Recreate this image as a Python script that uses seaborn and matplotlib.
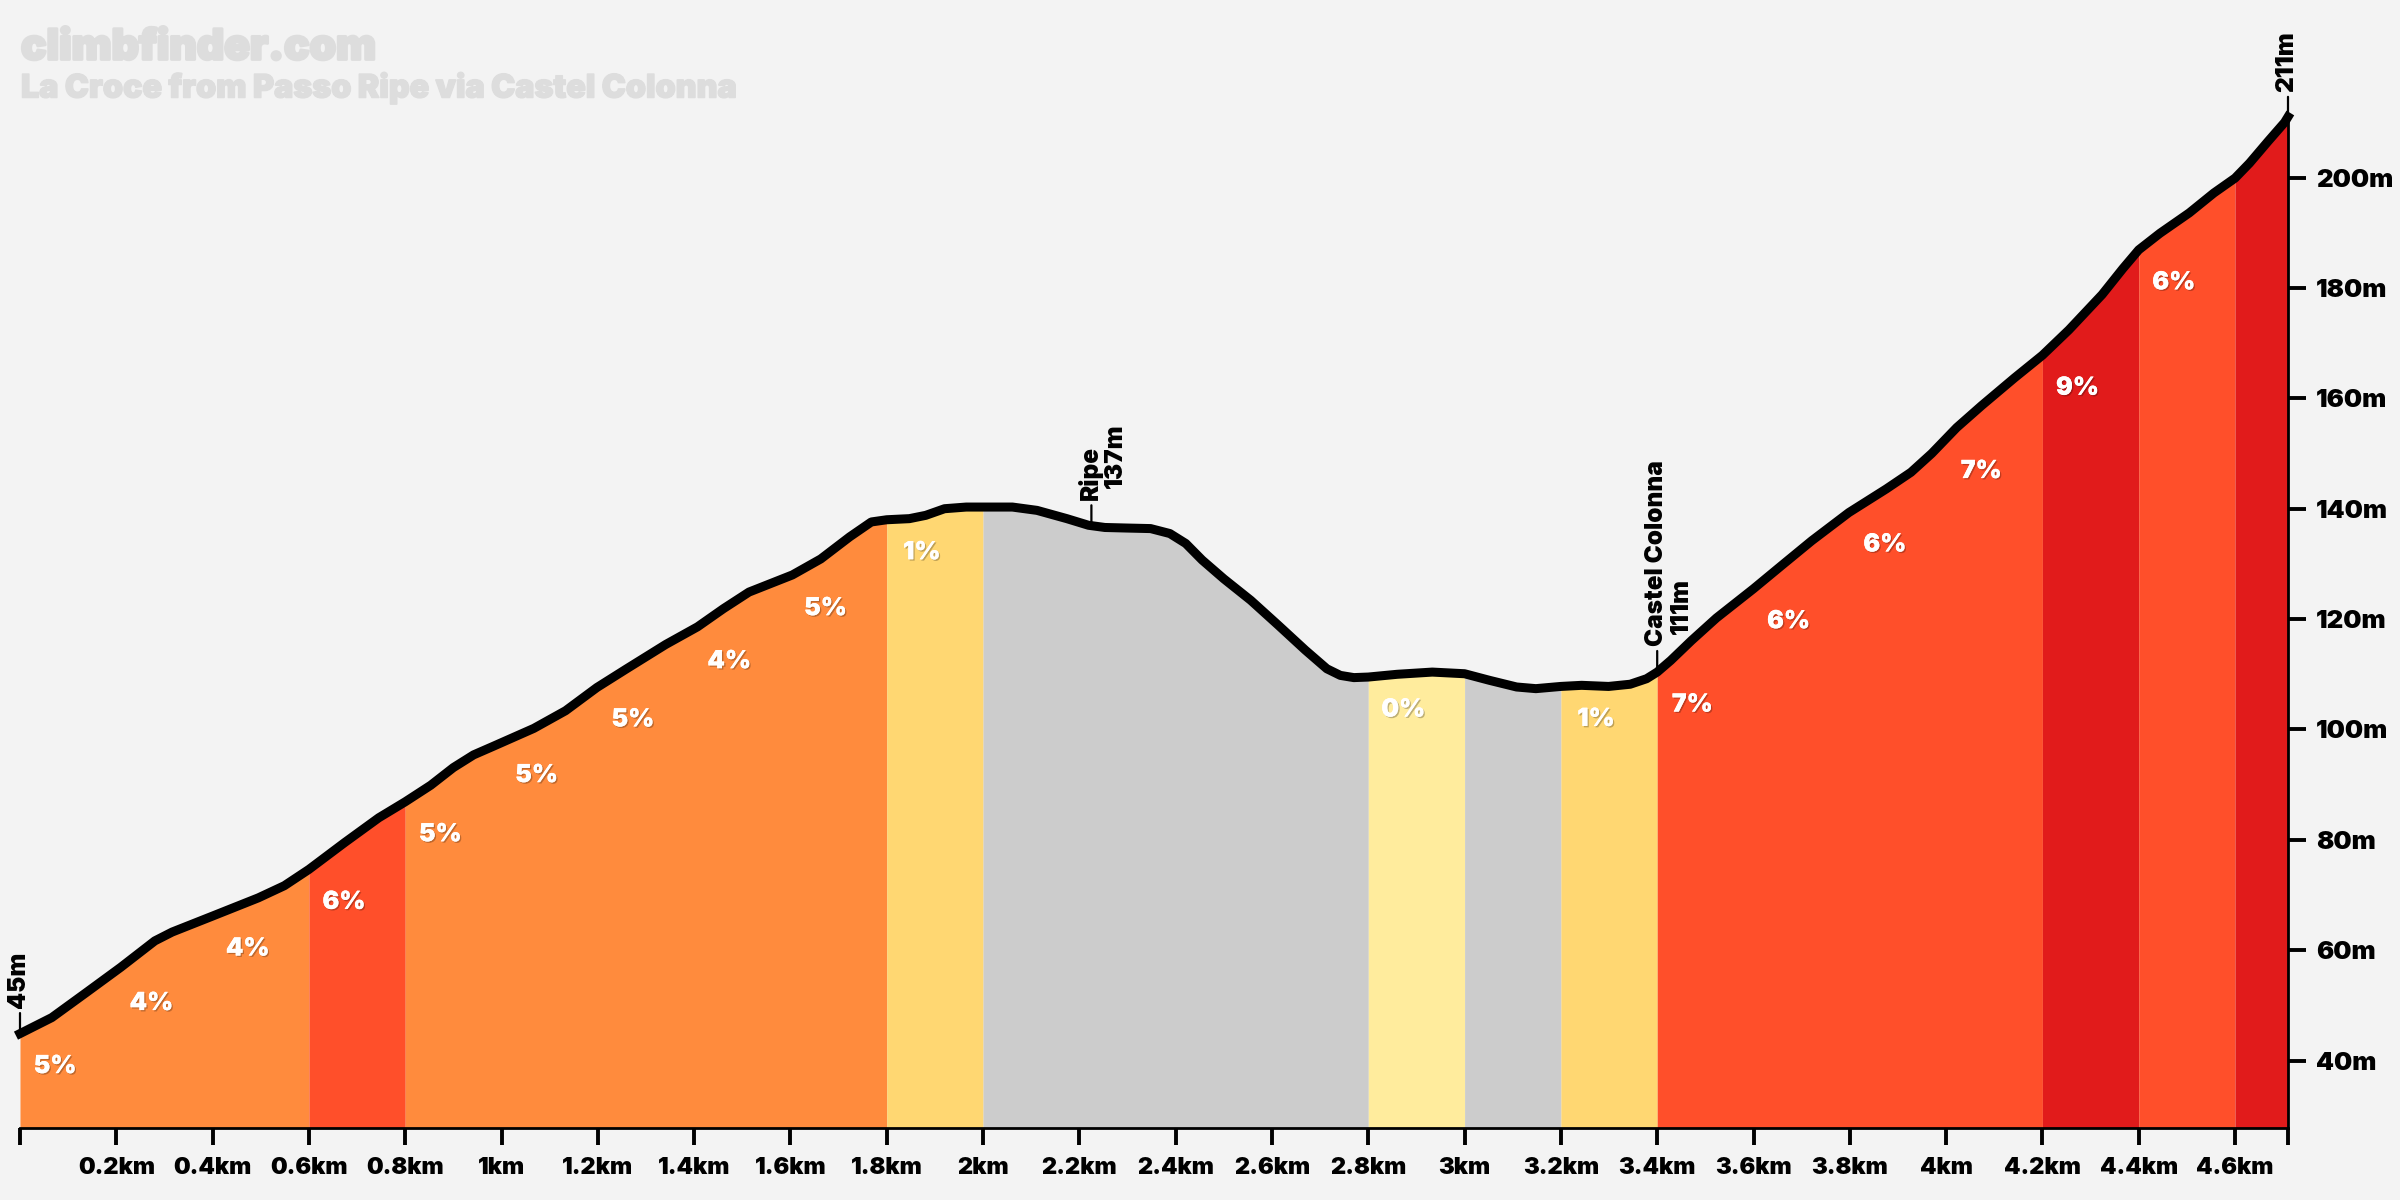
import matplotlib
matplotlib.use('Agg')
import matplotlib.pyplot as plt
import matplotlib.patheffects as pe
import numpy as np
import pandas as pd
import seaborn as sns

# distance (km) and elevation (m)
dist = [0, 0.066, 0.137, 0.209, 0.28, 0.316, 0.4, 0.495, 0.549, 0.6, 0.674, 0.745, 0.8, 0.853, 0.9, 0.942, 0.984,
        1.067, 1.133, 1.198, 1.258, 1.341, 1.407, 1.461, 1.514, 1.604, 1.663, 1.723, 1.768, 1.8, 1.847, 1.881, 1.92,
        1.965, 2.0, 2.061, 2.112, 2.174, 2.219, 2.253, 2.298, 2.348, 2.388, 2.421, 2.455, 2.5, 2.556, 2.613, 2.669,
        2.714, 2.742, 2.77, 2.8, 2.86, 2.933, 3.0, 3.052, 3.108, 3.148, 3.2, 3.243, 3.299, 3.344, 3.378, 3.4, 3.428,
        3.471, 3.523, 3.6, 3.661, 3.721, 3.798, 3.876, 3.927, 3.97, 4.022, 4.074, 4.142, 4.2, 4.255, 4.324, 4.367,
        4.4, 4.444, 4.505, 4.556, 4.6, 4.63, 4.669, 4.703, 4.71]
elev = [44.9, 47.8, 52.3, 56.9, 61.7, 63.3, 66.2, 69.5, 71.7, 74.65, 79.5, 84, 86.9, 89.9, 93.1, 95.4, 97,
        100.2, 103.4, 107.6, 110.9, 115.4, 118.6, 121.9, 124.9, 128, 130.9, 134.9, 137.6, 138, 138.2, 138.8, 140,
        140.3, 140.3, 140.3, 139.7, 138.2, 137, 136.6, 136.5, 136.4, 135.5, 133.7, 130.7, 127.3, 123.4, 118.9, 114.4,
        111, 109.8, 109.4, 109.5, 110, 110.4, 110.1, 108.9, 107.7, 107.4, 107.8, 108, 107.8, 108.2, 109.2, 110.4, 112.5,
        116.1, 120.2, 125.5, 129.9, 134.2, 139.3, 143.6, 146.6, 150, 154.7, 158.7, 163.7, 167.8, 172.4, 178.8, 183.5,
        186.9, 189.9, 193.6, 197.2, 199.9, 202.6, 206.6, 210, 211]

# coloured gradient bands
seg_start = [0, 0.6, 0.8, 1.8, 2.0, 2.8, 3.0, 3.2, 3.4, 4.2, 4.4, 4.6]
seg_end = [0.6, 0.8, 1.8, 2.0, 2.8, 3.0, 3.2, 3.4, 4.2, 4.4, 4.6, 4.71]
seg_color = ['#FF8B3D', '#FF4F2A', '#FF8B3D', '#FFD772', '#CCCCCC', '#FFEC9D', '#CCCCCC', '#FFD772',
             '#FF4F2A', '#E11B1B', '#FF4F2A', '#E11B1B']

# grade labels
grade_x = [0, 0.2, 0.4, 0.6, 0.8, 1.0, 1.2, 1.4, 1.6, 1.8, 2.8, 3.2, 3.4, 3.6, 3.8, 4.0, 4.2, 4.4]
grade_txt = ['5%', '4%', '4%', '6%', '5%', '5%', '5%', '4%', '5%', '1%', '0%', '1%', '7%', '6%', '6%', '7%', '9%', '6%']

x_ticks = [0, 0.2, 0.4, 0.6, 0.8, 1, 1.2, 1.4, 1.6, 1.8, 2, 2.2, 2.4, 2.6, 2.8, 3, 3.2, 3.4, 3.6, 3.8, 4, 4.2, 4.4, 4.6, 4.71]
x_labels = ['', '0.2km', '0.4km', '0.6km', '0.8km', '1km', '1.2km', '1.4km', '1.6km', '1.8km', '2km', '2.2km', '2.4km',
            '2.6km', '2.8km', '3km', '3.2km', '3.4km', '3.6km', '3.8km', '4km', '4.2km', '4.4km', '4.6km', '']
y_ticks = [40, 60, 80, 100, 120, 140, 160, 180, 200]

# waypoints on the road
way_x = [0, 2.225, 3.4, 4.71]
way_y = [45, 137, 110.6, 211]
way_name = ['45m', 'Ripe', 'Castel Colonna', '211m']
way_height = ['', '137m', '111m', '']

BG = '#F3F3F3'
FONT = 'Inter'

sns.set_theme(style='white', rc={'axes.facecolor': BG, 'figure.facecolor': BG})
plt.rcParams['font.family'] = [FONT, 'DejaVu Sans']

df = pd.DataFrame({'dist': dist, 'elev': elev})
fig = plt.figure(figsize=(24, 12), dpi=100)
ax = fig.add_axes([20 / 2400, 1 - 1128 / 1200, (2288 - 20) / 2400, 1128 / 1200])

YMIN = 40 - 44 / 3.606
YMAX = 200 + 116 / 3.606
ax.set_xlim(0, 4.71)
ax.set_ylim(YMIN, YMAX)

for s, e, c in zip(seg_start, seg_end, seg_color):
    part = df[(df.dist >= s) & (df.dist <= e)]
    ax.fill_between(part.dist, YMIN, part.elev, color=c, lw=0, zorder=1)

sns.lineplot(data=df, x='dist', y='elev', color='black', lw=6.5, ax=ax, zorder=3, clip_on=False)
ax.lines[-1].set_solid_joinstyle('round')
ax.lines[-1].set_solid_capstyle('projecting')
ax.set_xlabel('')
ax.set_ylabel('')

shadow = [pe.withSimplePatchShadow(offset=(1, -1), shadow_rgbFace='black', alpha=0.25), pe.Normal()]
for gx, t in zip(grade_x, grade_txt):
    ax.annotate(t, (gx, np.interp(gx, dist, elev)), xytext=(35, -33), textcoords='offset pixels', ha='center', va='center',
                color='white', fontsize=18, fontweight='black', zorder=4, path_effects=shadow)

for sp in ['top', 'left']:
    ax.spines[sp].set_visible(False)
ax.spines['bottom'].set_color('black')
ax.spines['bottom'].set_linewidth(2)
ax.spines['right'].set_color('black')
ax.spines['right'].set_linewidth(2)
ax.spines['right'].set_bounds(YMIN, 211)

ax.set_xticks(x_ticks)
ax.set_xticklabels(x_labels, fontsize=17, fontweight='black', color='black')
ax.tick_params(axis='x', bottom=True, length=12, width=2.8, color='black', pad=9)
ax.yaxis.tick_right()
ax.set_yticks(y_ticks)
ax.set_yticklabels([f'{v}m' for v in y_ticks], fontsize=18.5, fontweight='black', color='black')
ax.tick_params(axis='y', right=True, length=13, width=2.8, color='black', pad=7)

for mx, my, name, height in zip(way_x, way_y, way_name, way_height):
    ax.annotate('', (mx, my), xytext=(0, 20), textcoords='offset pixels',
                arrowprops=dict(arrowstyle='-', lw=1.6, color='black', shrinkA=0, shrinkB=0), annotation_clip=False)
    ax.annotate(name, (mx, my), xytext=(-1, 25), textcoords='offset pixels', rotation=90, ha='center', va='bottom',
                fontsize=17.5, fontweight='black', color='black', annotation_clip=False)
    if height:
        ax.annotate(height, (mx, my), xytext=(24, 37), textcoords='offset pixels', rotation=90, ha='center', va='bottom',
                    fontsize=17.5, fontweight='black', color='black', annotation_clip=False)

# rounded heavy look of the site's title font
fig.text(21 / 2400, 1 - 48 / 1200, 'climbfinder.com', fontsize=30.5, fontweight='black', color='#DDDDDD', va='center', ha='left',
         path_effects=[pe.withStroke(linewidth=2, foreground='#DDDDDD')])
fig.text(21 / 2400, 1 - 88 / 1200, 'La Croce from Passo Ripe via Castel Colonna', fontsize=23.2, fontweight='black', color='#DDDDDD',
         va='center', ha='left', path_effects=[pe.withStroke(linewidth=1.1, foreground='#DDDDDD')])

fig.savefig('out.png', dpi=100, facecolor=BG)
